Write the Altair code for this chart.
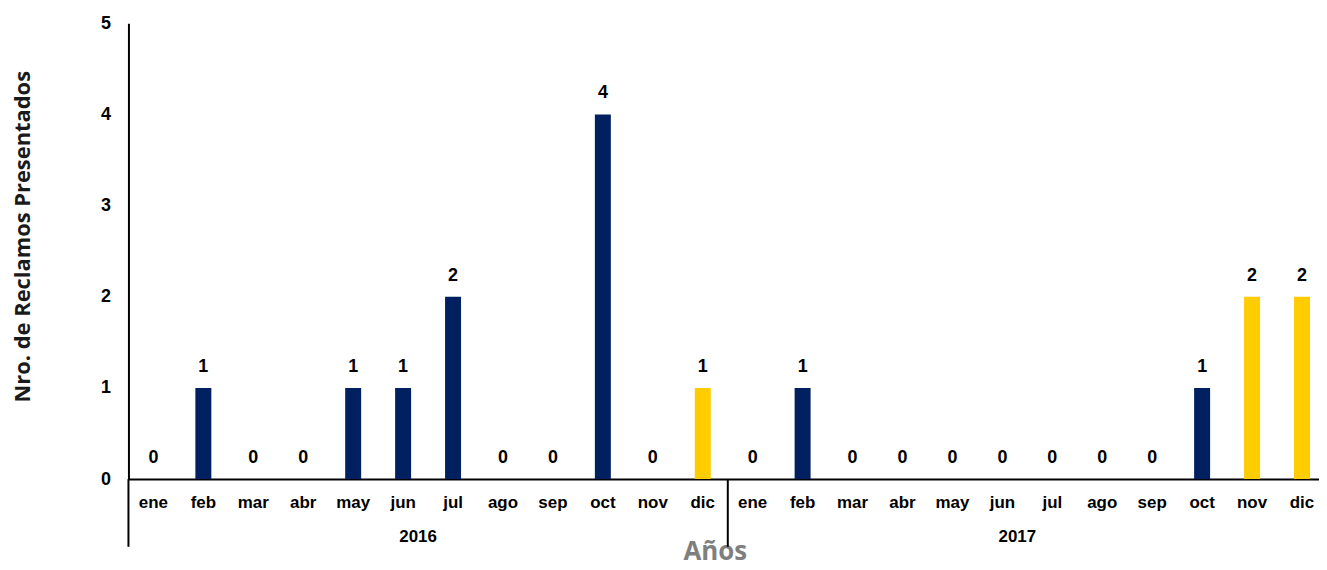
import altair as alt
import pandas as pd

months = ["ene", "feb", "mar", "abr", "may", "jun", "jul", "ago", "sep", "oct", "nov", "dic"]
years = ["2016", "2017"]
values_2016 = [0, 1, 0, 0, 1, 1, 2, 0, 0, 4, 0, 1]
values_2017 = [0, 1, 0, 0, 0, 0, 0, 0, 0, 1, 2, 2]
highlight_2016 = [0, 0, 0, 0, 0, 0, 0, 0, 0, 0, 0, 1]
highlight_2017 = [0, 0, 0, 0, 0, 0, 0, 0, 0, 0, 1, 1]

rows = []
for y, vals, hl in [("2016", values_2016, highlight_2016), ("2017", values_2017, highlight_2017)]:
    for m, v, h in zip(months, vals, hl):
        rows.append({"key": f"{y}-{m}", "year": y, "month": m, "value": v, "tipo": "b" if h else "a"})
df = pd.DataFrame(rows)
keys = list(df["key"])

year_df = pd.DataFrame({"key": [f"{y}-jun" for y in years], "year": years})
sep_df = pd.DataFrame({"key": ["2017-ene"]})

FONT = "Liberation Sans"
W = 1196
H = 458

xs = alt.X("key:N", sort=keys,
           scale=alt.Scale(range=[0, 1204], paddingInner=0.68, paddingOuter=0.34),
           axis=alt.Axis(title="Años", labelExpr="split(datum.value, '-')[1]", labelAngle=0,
                         labelFont=FONT, labelFontWeight="bold", labelFontSize=17, labelColor="#000000",
                         labelPadding=16, ticks=False, domainColor="#000000", domainWidth=2,
                         titleFont="Open Sans", titleFontSize=26, titleFontWeight="bold",
                         titleColor="#7f7f7f", titleX=589, titleY=81, titleBaseline="alphabetic",
                         titleAnchor="start", titleAlign="center"))

ys = alt.Y("value:Q", scale=alt.Scale(domain=[0, 5], nice=False),
           axis=alt.Axis(title="Nro. de Reclamos Presentados", values=[0, 1, 2, 3, 4, 5], format="d",
                         grid=False, ticks=False, labelFont=FONT, labelFontWeight="bold", labelFontSize=18,
                         labelColor="#000000", labelPadding=18, domainColor="#000000", domainWidth=2,
                         titleFont="Open Sans", titleFontSize=22, titleFontWeight="bold",
                         titleColor="#1a1a1a", titleX=-106, titleY=214, titleAngle=270,
                         titleAlign="center", titleBaseline="middle", titleAnchor="start"))

bars = alt.Chart(df).mark_bar().encode(
    x=xs, y=ys,
    color=alt.Color("tipo:N", scale=alt.Scale(domain=["a", "b"], range=["#002060", "#FFCC00"]), legend=None),
)

labels = alt.Chart(df).mark_text(font=FONT, fontWeight="bold", fontSize=18, color="#000000",
                                 baseline="alphabetic", dy=-16).encode(
    x=alt.X("key:N", sort=keys), y="value:Q", text="value:Q")

year_labels = alt.Chart(year_df).mark_text(font=FONT, fontWeight="bold", fontSize=17, color="#000000",
                                           baseline="middle", dx=15).encode(
    x=alt.X("key:N", sort=keys), y=alt.value(H + 58), text="year:N")

left_line = alt.Chart(sep_df).mark_rule(color="#000000", strokeWidth=2).encode(
    x=alt.value(0), y=alt.value(H), y2=alt.value(H + 68))

sep_line = alt.Chart(sep_df).mark_rule(color="#000000", strokeWidth=2, xOffset=-25).encode(
    x=alt.X("key:N", sort=keys), y=alt.value(H), y2=alt.value(H + 68))

chart = alt.layer(bars, labels, year_labels, left_line, sep_line).properties(
    width=W, height=H, background="white",
    autosize=alt.AutoSizeParams(type="none"),
    padding={"left": 121, "top": 14, "right": 0, "bottom": 82},
).configure_view(strokeWidth=0, stroke="transparent")

chart.save("out.html", embed_options={"renderer": "svg", "actions": False})
